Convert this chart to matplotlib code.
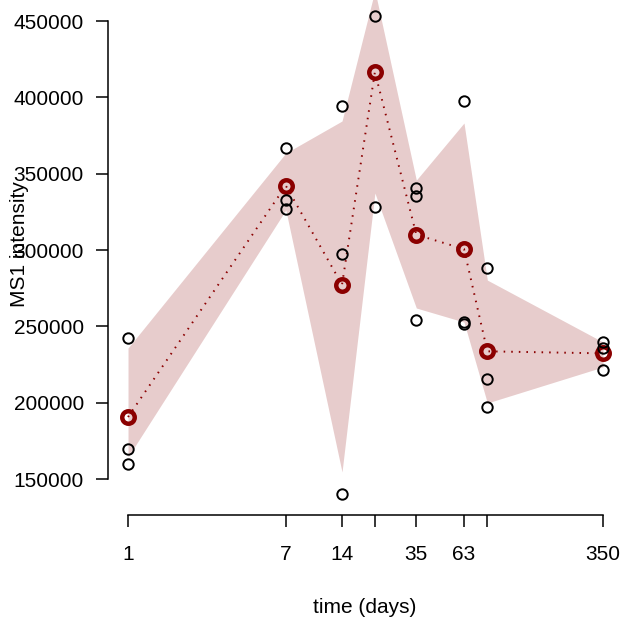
import numpy as np
import matplotlib.pyplot as plt

plt.rcParams['font.family'] = ['Liberation Sans', 'DejaVu Sans']

# sampling days and the three replicate intensities per day
days = [1, 7, 14, 21, 35, 63, 84, 350]
day_labels = ['1', '7', '14', '', '35', '63', '', '350']
replicates = [
    [242400, 169650, 159800],
    [366800, 332700, 326900],
    [394300, 297400, 140200],
    [453300, 328200, 468300],
    [340600, 335400, 254100],
    [397600, 252800, 251500],
    [288200, 215500, 197200],
    [239700, 235800, 221400],
]
# shaded band edges
band_upper = [235800, 363500, 384500, 470000, 345800, 383200, 280300, 239700]
band_lower = [164400, 326200, 154600, 337300, 262000, 252800, 199800, 223400]

y_ticks = [150000, 200000, 250000, 300000, 350000, 400000, 450000]

means = [np.mean(r) for r in replicates]

W, H = 625, 624
fig = plt.figure(figsize=(W / 100, H / 100), dpi=100)
# axes placed in pixel terms (top runs past the figure edge, like the source)
left_px, right_px, bottom_px, top_px = 108, 622, 515, -27
ax = fig.add_axes([left_px / W, (H - bottom_px) / H,
                   (right_px - left_px) / W, (bottom_px - top_px) / H])

dark = '#8B0000'
ax.fill_between(days, band_lower, band_upper, color=dark, alpha=0.2,
                linewidth=0, zorder=1)
ax.plot(days, means, linestyle=(0, (0.8, 3.1)), color=dark, linewidth=1.4,
        zorder=2)
ax.plot(days, means, 'o', markersize=9, markerfacecolor='none',
        markeredgecolor=dark, markeredgewidth=3.2, zorder=3)
for d, r in zip(days, replicates):
    ax.plot([d] * len(r), r, 'o', markersize=7.5, markerfacecolor='none',
            markeredgecolor='black', markeredgewidth=1.4, zorder=4)

ax.set_xscale('log')
ax.set_xlim(0.7814, 442)
ax.set_ylim(126420, 481450)

ax.set_xticks(days)
ax.set_xticklabels(day_labels)
ax.minorticks_off()
ax.set_yticks(y_ticks)
ax.set_yticklabels([str(v) for v in y_ticks])

for s in ['top', 'right']:
    ax.spines[s].set_visible(False)
ax.spines['left'].set_bounds(150000, 450000)
ax.spines['bottom'].set_bounds(1, 350)
for s in ['left', 'bottom']:
    ax.spines[s].set_linewidth(1.1)

ax.tick_params(axis='x', length=8.4, width=1.1, pad=13, labelsize=15)
ax.tick_params(axis='y', length=8.4, width=1.1, pad=9, labelsize=15)

ax.set_xlabel('time (days)', fontsize=15, labelpad=25)
ax.yaxis.set_label_coords(-79 / (right_px - left_px), 0.5)
ax.set_ylabel('MS1 intensity', fontsize=15)

fig.savefig('out.png', dpi=100)
